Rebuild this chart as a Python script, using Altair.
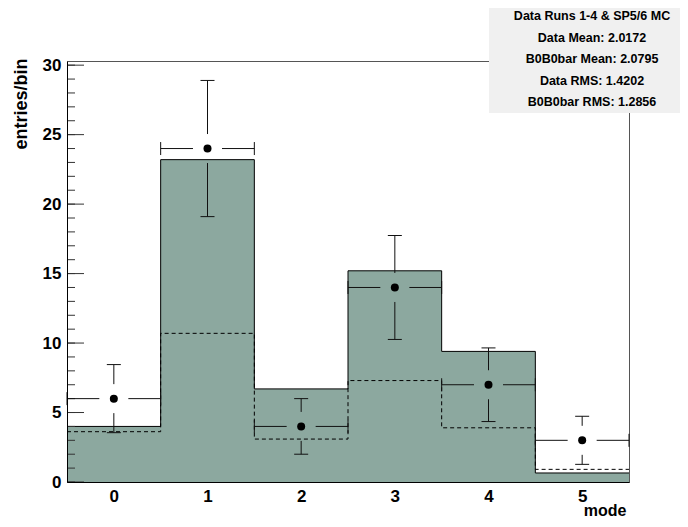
import altair as alt
import pandas as pd

# bin contents
modes = [0, 1, 2, 3, 4, 5]
data_counts = [6, 24, 4, 14, 7, 3]
data_errors = [2.45, 4.90, 2.00, 3.74, 2.65, 1.73]
mc_total = [4.0, 23.2, 6.7, 15.2, 9.4, 0.65]
mc_dashed = [3.62, 10.7, 3.09, 7.3, 3.9, 0.91]

stats_lines = [
    "Data Runs 1-4 & SP5/6 MC",
    "Data Mean: 2.0172",
    "B0B0bar Mean: 2.0795",
    "Data RMS: 1.4202",
    "B0B0bar RMS: 1.2856",
]

y_major = [0, 5, 10, 15, 20, 25, 30]
y_minor = list(range(0, 31))

FONT = "Liberation Sans"
FILL = "#8ca89f"
Y_MAX = 30.3
GAP = 14.5  # px gap around the data marker

bins = pd.DataFrame({
    "mode": modes,
    "lo": [m - 0.5 for m in modes],
    "hi": [m + 0.5 for m in modes],
    "n": data_counts,
    "up": [n + e for n, e in zip(data_counts, data_errors)],
    "down": [n - e for n, e in zip(data_counts, data_errors)],
})

steps = pd.DataFrame({
    "edge": [m - 0.5 for m in modes] + [modes[-1] + 0.5],
    "mc": mc_total + [mc_total[-1]],
    "mc2": mc_dashed + [mc_dashed[-1]],
})

xs = alt.Scale(domain=[-0.5, 5.5], nice=False, zero=False)
ys = alt.Scale(domain=[0, Y_MAX], nice=False)

x_axis = alt.Axis(
    values=modes, format="d", ticks=False, grid=False, domainColor="black",
    labelFont=FONT, labelFontSize=17, labelFontWeight="bold", labelColor="black",
    labelPadding=6, title="mode", titleFont=FONT, titleFontSize=16,
    titleFontWeight="bold", titleAlign="right", titleBaseline="alphabetic",
    titleX=559, titleY=33, titleColor="black", zindex=1,
)
y_axis = alt.Axis(
    values=y_major, ticks=False, grid=False, domainColor="black",
    labelFont=FONT, labelFontSize=17, labelFontWeight="bold", labelColor="black",
    labelPadding=6, title="entries/bin", titleFont=FONT, titleFontSize=18,
    titleFontWeight="bold", titleAngle=-90, titleAlign="right",
    titleBaseline="middle", titleX=-46, titleY=-3, titleColor="black", zindex=1,
)

xq = lambda f: alt.X(f, scale=xs, axis=x_axis)
yq = lambda f: alt.Y(f, scale=ys, axis=y_axis)

fill = alt.Chart(steps).mark_area(interpolate="step-after", color=FILL).encode(
    x=xq("edge:Q"), y=yq("mc:Q"), y2=alt.datum(0)
)

outline = alt.Chart(steps).mark_line(
    interpolate="step-after", color="black", strokeWidth=1
).encode(x=xq("edge:Q"), y=yq("mc:Q"))

dashed = alt.Chart(steps).mark_line(
    interpolate="step-after", color="black", strokeWidth=1, strokeDash=[4, 3]
).encode(x=xq("edge:Q"), y=yq("mc2:Q"))

base = alt.Chart(bins)
ERR = dict(color="#111111", strokeWidth=1)

err_up = base.mark_rule(yOffset=-GAP, **ERR).encode(x=xq("mode:Q"), y=yq("n:Q"), y2="up:Q")
err_dn = base.mark_rule(yOffset=GAP, **ERR).encode(x=xq("mode:Q"), y=yq("n:Q"), y2="down:Q")
cap_up = base.mark_rule(xOffset=-7, x2Offset=7, **ERR).encode(x=xq("mode:Q"), x2="mode:Q", y=yq("up:Q"))
cap_dn = base.mark_rule(xOffset=-7, x2Offset=7, **ERR).encode(x=xq("mode:Q"), x2="mode:Q", y=yq("down:Q"))
err_l = base.mark_rule(x2Offset=-GAP, **ERR).encode(x=xq("lo:Q"), x2="mode:Q", y=yq("n:Q"))
err_r = base.mark_rule(xOffset=GAP, **ERR).encode(x=xq("mode:Q"), x2="hi:Q", y=yq("n:Q"))
cap_l = base.mark_rule(yOffset=-6.5, y2Offset=6.5, **ERR).encode(x=xq("lo:Q"), y=yq("n:Q"), y2="n:Q")
cap_r = base.mark_rule(yOffset=-6.5, y2Offset=6.5, **ERR).encode(x=xq("hi:Q"), y=yq("n:Q"), y2="n:Q")

points = base.mark_point(filled=True, shape="circle", size=64, color="black", opacity=1).encode(
    x=xq("mode:Q"), y=yq("n:Q")
)

# inward ROOT-style ticks on the left axis
major_ticks = alt.Chart(pd.DataFrame({"n": y_major})).mark_rule(color="#333333").encode(
    x=alt.value(0), x2=alt.value(17), y=yq("n:Q")
)
minor_ticks = alt.Chart(pd.DataFrame({"n": y_minor})).mark_rule(color="#333333").encode(
    x=alt.value(0), x2=alt.value(8), y=yq("n:Q")
)

stats_box = alt.Chart(pd.DataFrame({"a": [0]})).mark_rect(color="#f0f0f0").encode(
    x=alt.value(422), x2=alt.value(621), y=alt.value(-61), y2=alt.value(52)
)
stats_text = alt.Chart(pd.DataFrame({"a": [0]})).mark_text(
    font=FONT, fontSize=12.5, fontWeight="bold", color="black",
    align="center", baseline="middle", lineHeight=21.6,
).encode(x=alt.value(525), y=alt.value(-45), text=alt.value(stats_lines))

chart = alt.layer(
    fill, outline, dashed, minor_ticks, major_ticks,
    err_up, err_dn, cap_up, cap_dn, err_l, err_r, cap_l, cap_r, points,
    stats_box, stats_text,
).properties(
    width=562,
    height=421,
    padding={"left": 59, "top": 53, "right": 51, "bottom": 37},
    autosize=alt.AutoSizeParams(type="none"),
).configure_view(stroke="#555555", strokeWidth=1)

chart.save("out.html", embed_options={"renderer": "svg", "actions": False})
